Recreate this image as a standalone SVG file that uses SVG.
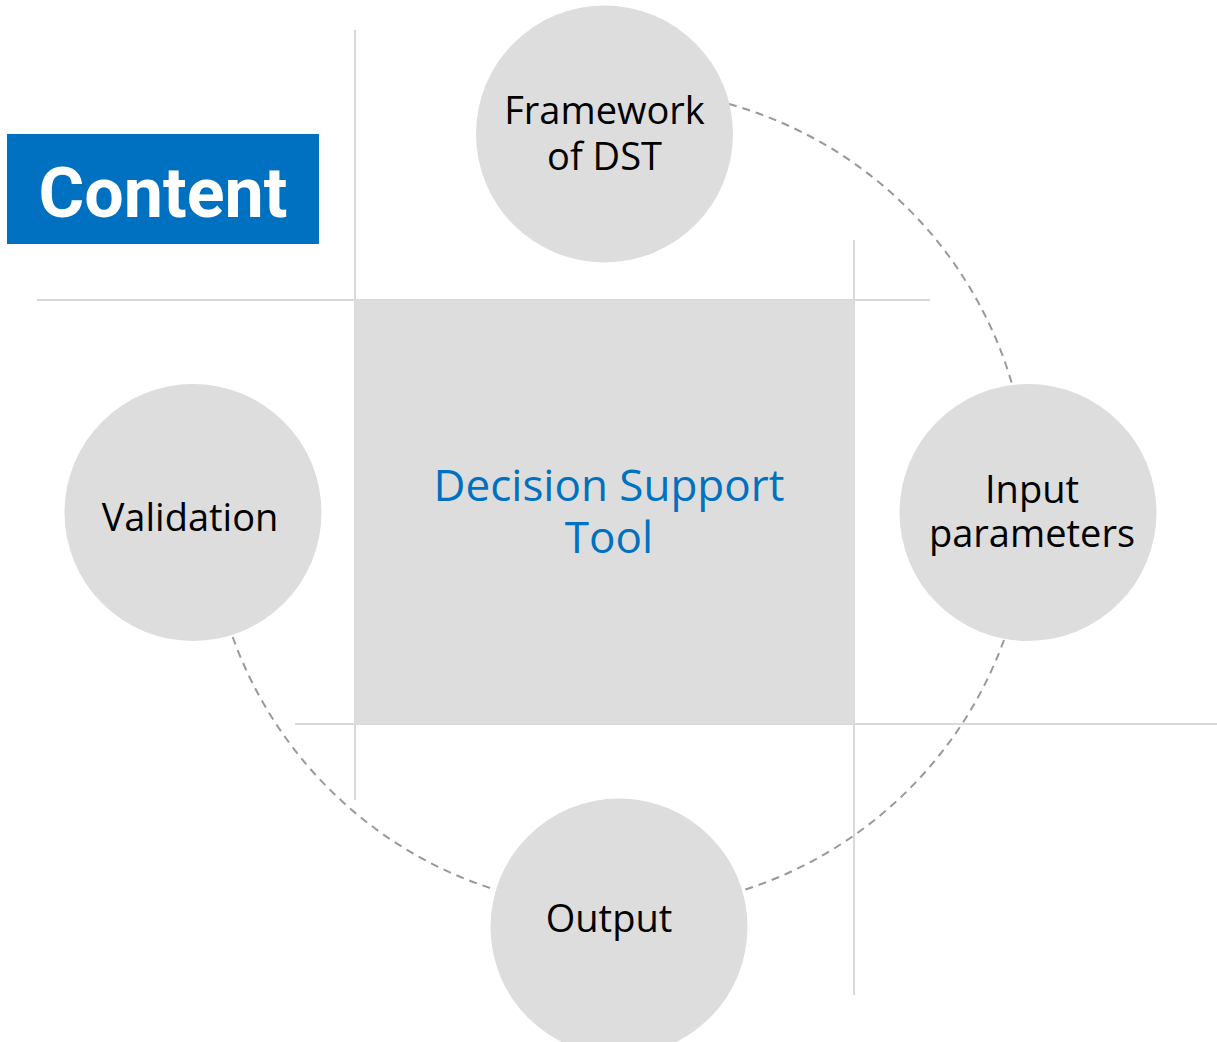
<svg xmlns="http://www.w3.org/2000/svg" width="1217" height="1042" viewBox="0 0 1217 1042">
<style>
.grid{stroke:#d9d9d9;stroke-width:2;fill:none}
.node{fill:#dddddd}
.lbl{font-family:"Open Sans","Noto Sans",sans-serif;font-size:38px;fill:#000;text-anchor:middle}
.dash{stroke:#999999;stroke-width:2;fill:none;stroke-dasharray:8 6}
</style>
<rect width="1217" height="1042" fill="#ffffff"/>
<g id="grid-lines">
<line class="grid" x1="355" y1="30" x2="355" y2="800"/>
<line class="grid" x1="37" y1="300" x2="930" y2="300"/>
<line class="grid" x1="854" y1="240" x2="854" y2="995"/>
<line class="grid" x1="295" y1="724" x2="1217" y2="724"/>
</g>
<g id="title">
<rect x="7" y="134" width="312" height="110" fill="#0070c0"/>
<text x="163" y="217" font-family="Roboto,'Liberation Sans',sans-serif" font-weight="bold" font-size="70" fill="#ffffff" text-anchor="middle">Content</text>
</g>
<g id="connectors">
<path class="dash" d="M729,104 A410,410 0 0 1 1012,384"/>
<path class="dash" d="M1004,640 A410,410 0 0 1 744,890"/>
<path class="dash" d="M490,888 A410,410 0 0 1 232,635"/>
</g>
<g id="center">
<rect x="355" y="300" width="499" height="424" fill="#dddddd"/>
<text font-family="'Open Sans','Noto Sans',sans-serif" font-size="44" fill="#0070c0" text-anchor="middle"><tspan x="609" y="501">Decision Support</tspan><tspan x="609" y="553">Tool</tspan></text>
</g>
<g id="framework">
<circle class="node" cx="604.5" cy="134" r="128.5"/>
<text class="lbl"><tspan x="604.5" y="124">Framework</tspan><tspan x="604.5" y="170">of DST</tspan></text>
</g>
<g id="input">
<circle class="node" cx="1028" cy="512.5" r="128.5"/>
<text class="lbl"><tspan x="1032" y="503">Input</tspan><tspan x="1032" y="547">parameters</tspan></text>
</g>
<g id="output">
<circle class="node" cx="619" cy="927" r="128.5"/>
<text class="lbl" x="609" y="932">Output</text>
</g>
<g id="validation">
<circle class="node" cx="193" cy="512.5" r="128.5"/>
<text class="lbl" x="190" y="531">Validation</text>
</g>
</svg>
